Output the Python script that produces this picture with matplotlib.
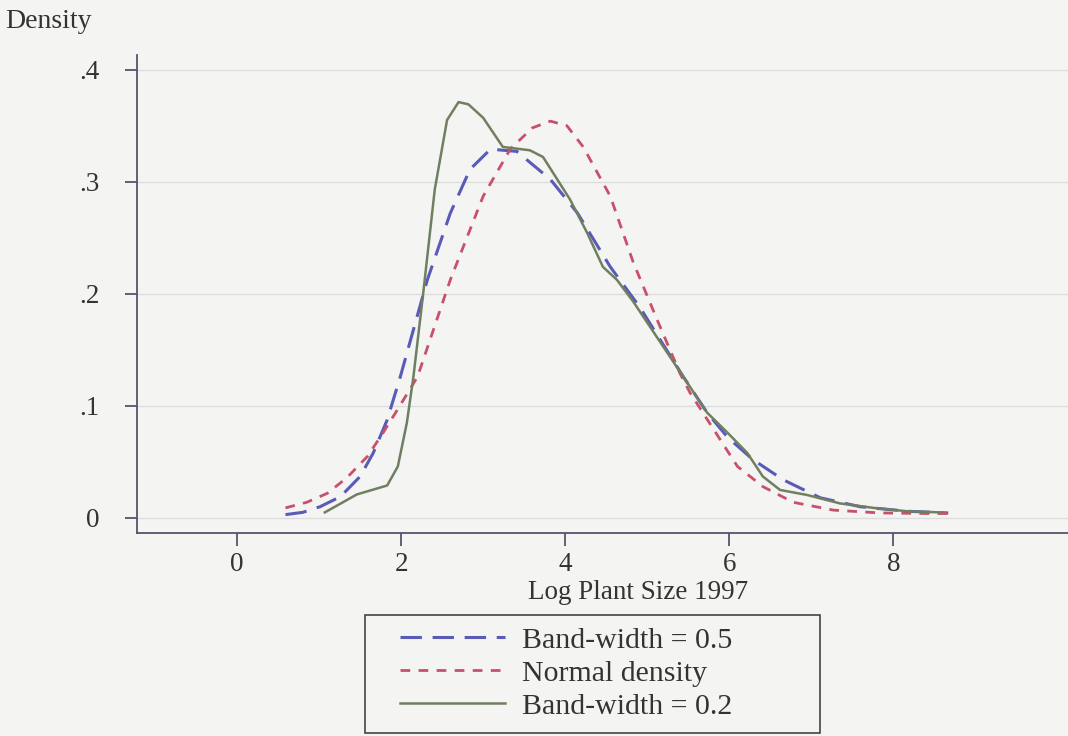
import matplotlib.pyplot as plt
from matplotlib.patches import Rectangle

# kernel density, band-width 0.5
bw5_x = [0.59, 0.80, 1.01, 1.26, 1.50, 1.66, 1.83, 1.99, 2.32, 2.60, 2.84, 3.09, 3.41,
         3.82, 4.15, 4.55, 4.91, 5.44, 5.73, 5.98, 6.29, 6.66, 7.11, 7.60, 8.17, 8.67]
bw5_y = [0.003, 0.005, 0.010, 0.019, 0.037, 0.058, 0.0875, 0.126, 0.2125, 0.272, 0.311,
         0.329, 0.327, 0.302, 0.272, 0.224, 0.188, 0.126, 0.094, 0.072, 0.052, 0.034,
         0.018, 0.010, 0.006, 0.0045]

# normal density
norm_x = [0.59, 0.85, 1.10, 1.34, 1.59, 1.78, 1.95, 2.20, 2.60, 3.00, 3.33, 3.60, 3.82,
          4.02, 4.22, 4.55, 4.83, 5.12, 5.40, 5.52, 5.81, 6.10, 6.41, 6.78, 7.27, 7.84,
          8.41, 8.66]
norm_y = [0.009, 0.014, 0.022, 0.036, 0.055, 0.076, 0.096, 0.126, 0.2125, 0.287, 0.329,
          0.348, 0.354, 0.350, 0.331, 0.287, 0.228, 0.177, 0.129, 0.112, 0.079, 0.046,
          0.028, 0.014, 0.007, 0.0045, 0.004, 0.004]

# kernel density, band-width 0.2
bw2_x = [1.07, 1.29, 1.46, 1.83, 1.96, 2.07, 2.15, 2.27, 2.41, 2.56, 2.70, 2.82, 3.00,
         3.24, 3.57, 3.73, 4.06, 4.27, 4.46, 4.63, 4.83, 5.44, 5.73, 5.98, 6.22, 6.41,
         6.62, 6.95, 7.35, 7.76, 8.17, 8.57]
bw2_y = [0.005, 0.014, 0.021, 0.029, 0.046, 0.085, 0.126, 0.201, 0.293, 0.355, 0.371,
         0.369, 0.357, 0.331, 0.328, 0.322, 0.284, 0.254, 0.224, 0.2125, 0.193, 0.126,
         0.094, 0.076, 0.058, 0.037, 0.025, 0.0205, 0.013, 0.009, 0.006, 0.005]

x_ticks = [0, 2, 4, 6, 8]
y_ticks = [0, 0.1, 0.2, 0.3, 0.4]
y_labels = ["0", ".1", ".2", ".3", ".4"]

plt.rcParams['font.family'] = ['Liberation Serif', 'DejaVu Serif']

bg = '#f4f4f2'
txt = '#333333'
fig = plt.figure(figsize=(10.68, 7.36), dpi=100, facecolor=bg)
ax = fig.add_axes([137 / 1068, (736 - 533) / 736, 1 - 137 / 1068, (533 - 55) / 736])
ax.set_facecolor(bg)

l1, = ax.plot(bw5_x, bw5_y, color='#5a5ab8', lw=2.2, dashes=(7, 3.5))
l2, = ax.plot(norm_x, norm_y, color='#c8506a', lw=2.0, dashes=(3.5, 3))
l3, = ax.plot(bw2_x, bw2_y, color='#6f7f60', lw=1.8)

ax.set_xlim(-1.22, 10.13)
ax.set_ylim(-0.0134, 0.413)
ax.set_xticks(x_ticks)
ax.set_yticks(y_ticks)
ax.set_yticklabels(y_labels)
ax.grid(axis='y', color='#dcdcdc', lw=0.9)
ax.set_axisbelow(True)
for s in ['top', 'right']:
    ax.spines[s].set_visible(False)
for s in ['left', 'bottom']:
    ax.spines[s].set_color('#55556a')
    ax.spines[s].set_linewidth(1.3)
ax.tick_params(colors='#55556a', width=1.3, length=9, labelsize=19.5, labelcolor=txt)
ax.tick_params(axis='x', pad=5)
ax.tick_params(axis='y', pad=18)

ax.set_xlabel("Log Plant Size 1997", fontsize=19.5, color=txt)
ax.xaxis.set_label_coords((638 - 137) / (1068 - 137), -(580 - 533) / (533 - 55), transform=ax.transAxes)
ax.xaxis.label.set_va('top')
fig.text(5 / 1068, 1 - 22 / 736, "Density", fontsize=20, color=txt, va='center')

fig.patches.append(Rectangle((365 / 1068, 1 - 733 / 736), (820 - 365) / 1068, (733 - 615) / 736,
                             transform=fig.transFigure, fill=False, edgecolor='#444444', lw=1.2))
fig.legend([l1, l2, l3], ["Band-width = 0.5", "Normal density", "Band-width = 0.2"],
           loc='upper left', bbox_to_anchor=(400 / 1068, 1 - 627 / 736), frameon=False,
           fontsize=21.5, handlelength=3.5, handletextpad=0.6, labelspacing=0.2,
           borderpad=0, borderaxespad=0, labelcolor=txt)

fig.savefig("out.png", dpi=100, facecolor=bg)
